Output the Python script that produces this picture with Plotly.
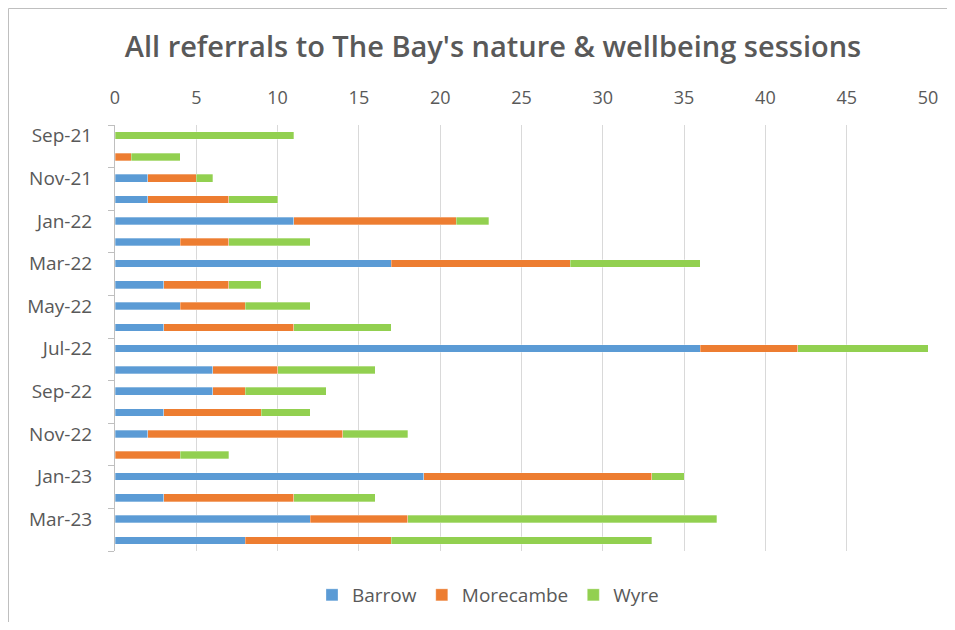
import plotly.graph_objects as go

months = ["Sep-21", "Oct-21", "Nov-21", "Dec-21", "Jan-22", "Feb-22", "Mar-22", "Apr-22",
          "May-22", "Jun-22", "Jul-22", "Aug-22", "Sep-22", "Oct-22", "Nov-22", "Dec-22",
          "Jan-23", "Feb-23", "Mar-23", "Apr-23"]
barrow =    [0, 0, 2, 2, 11, 4, 17, 3, 4, 3, 36, 6, 6, 3, 2, 0, 19, 3, 12, 8]
morecambe = [0, 1, 3, 5, 10, 3, 11, 4, 4, 8, 6, 4, 2, 6, 12, 4, 14, 8, 6, 9]
wyre =      [11, 3, 1, 3, 2, 5, 8, 2, 4, 6, 8, 6, 5, 3, 4, 3, 2, 5, 19, 16]
x_ticks = [0, 5, 10, 15, 20, 25, 30, 35, 40, 45, 50]

series = [("Barrow", barrow, "#5b9bd5"), ("Morecambe", morecambe, "#ed7d31"), ("Wyre", wyre, "#92d050")]
idx = list(range(len(months)))

fig = go.Figure()
for name, vals, col in series:
    fig.add_trace(go.Bar(
        y=idx, x=vals, name=name, orientation="h",
        marker=dict(color=col, line=dict(color="rgba(255,255,255,0.6)", width=0.5)),
    ))

# page body has an 8px margin, so figure coords = screen coords - 8
W, H = 939, 614
L, T = 107, 117
R = W - 920
B = H - 543
GREY = "#595959"
fig.update_layout(
    width=W, height=H,
    barmode="stack", bargap=0.64,
    plot_bgcolor="white", paper_bgcolor="white",
    margin=dict(l=L, r=R, t=T, b=B, autoexpand=False),
    font=dict(family="Open Sans, sans-serif", color=GREY, size=18),
    title=dict(text="All referrals to The Bay's nature & wellbeing sessions",
               x=485 / W, xanchor="center", xref="container",
               y=1 - 39 / H, yanchor="middle", yref="container",
               font=dict(size=29, color=GREY, family="Open Sans, sans-serif", weight=600)),
    legend=dict(orientation="h", xref="container", yref="container",
                x=480 / W, xanchor="center", y=1 - 587 / H, yanchor="middle",
                font=dict(size=19, color=GREY), traceorder="normal", itemwidth=30),
    xaxis=dict(side="top", range=[0, 50], tickvals=x_ticks, showgrid=True,
               gridcolor="#d9d9d9", gridwidth=1, zeroline=False, showline=False,
               ticks="", ticklabelstandoff=16, tickfont=dict(size=18, color=GREY)),
    yaxis=dict(range=[len(months) - 0.5, -0.5], tickvals=idx[::2],
               ticktext=months[::2], showgrid=False, zeroline=False,
               showline=True, linecolor="#bfbfbf", linewidth=1,
               ticks="", ticklen=0, ticklabelstandoff=18,
               minor=dict(tickvals=[i - 0.5 for i in range(0, len(months) + 1, 2)],
                          ticks="outside", ticklen=6, tickcolor="#bfbfbf"),
               tickfont=dict(size=19, color=GREY)),
)

# chart border (outer frame: only left and top edges fall inside the picture)
pw = W - L - R
ph = H - T - B
left_x = (0.5 - L) / pw
top_y = (H - B - 0.5) / ph
bottom_y = (H - B - (H + 20)) / ph
right_x = (W + 20 - L) / pw
fig.add_shape(type="line", xref="paper", yref="paper", x0=left_x, x1=left_x,
              y0=bottom_y, y1=top_y, line=dict(color="#bfbfbf", width=1), layer="below")
fig.add_shape(type="line", xref="paper", yref="paper", x0=left_x, x1=right_x,
              y0=top_y, y1=top_y, line=dict(color="#bfbfbf", width=1), layer="below")

fig.write_html("out.html")
